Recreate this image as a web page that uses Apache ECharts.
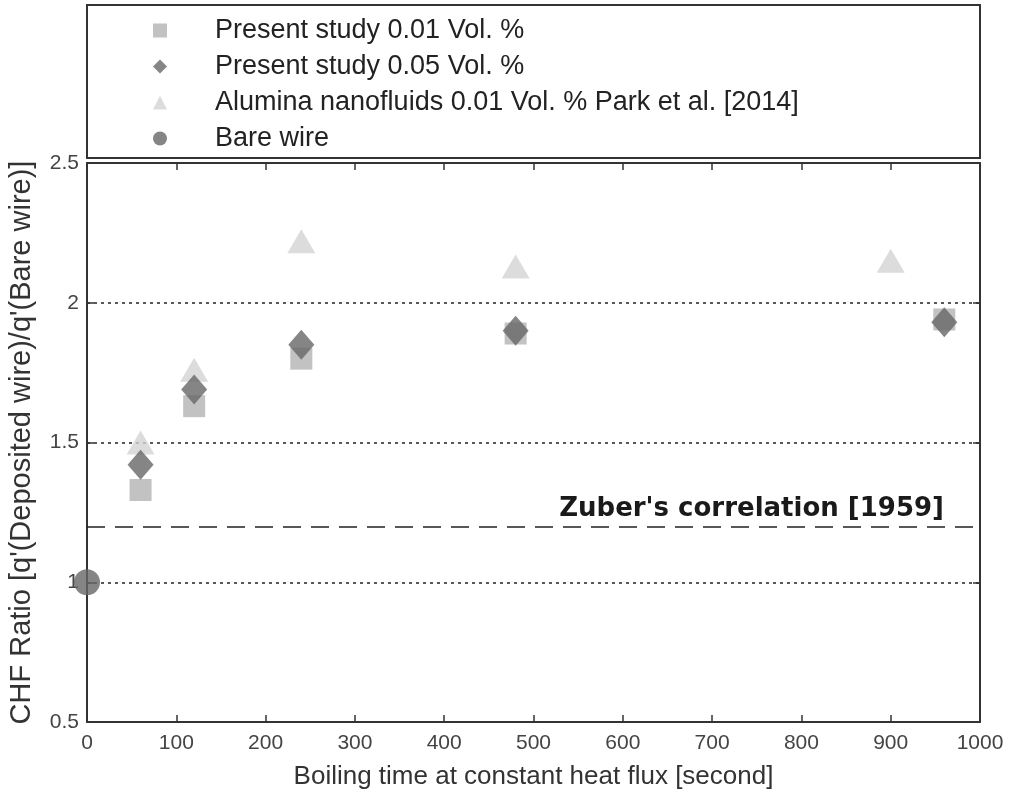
<!DOCTYPE html>
<html>
<head>
<meta charset="utf-8">
<script src="https://cdn.jsdelivr.net/npm/echarts@6/dist/echarts.min.js"></script>
<style>
  html, body { margin: 0; padding: 0; background: #fff; }
  #chart { width: 1010px; height: 794px; }
</style>
</head>
<body>
<div id="chart"></div>
<script>
// boiling time [s] and CHF ratio
const timeStudy = [60, 120, 240, 480, 960];
const ratio001 = [1.33, 1.63, 1.80, 1.89, 1.94];
const ratio005 = [1.42, 1.69, 1.85, 1.90, 1.93];
const timePark = [60, 120, 240, 480, 900];
const ratioPark = [1.50, 1.76, 2.22, 2.13, 2.15];
const timeBare = [0];
const ratioBare = [1.0];
const zuberRatio = 1.2;
const yTicks = [0.5, 1, 1.5, 2, 2.5];

const names = [
  'Present study 0.01 Vol. %',
  'Present study 0.05 Vol. %',
  'Alumina nanofluids 0.01 Vol. % Park et al. [2014]',
  'Bare wire'
];

function pairs(xs, ys) {
  return xs.map((x, i) => [x, ys[i]]);
}

const chart = echarts.init(document.getElementById('chart'));
const font = 'Liberation Sans, Arial, sans-serif';
const axisCol = '#333';

const baseX = {
  type: 'value', min: 0, max: 1000, interval: 100,
  axisLine: { show: true, onZero: false, lineStyle: { color: axisCol, width: 2 } },
  axisTick: { show: true, inside: true, length: 7, lineStyle: { color: axisCol, width: 1.5 } },
  splitLine: { show: false }
};
const baseY = {
  type: 'value', min: 0.5, max: 2.5, interval: 0.5,
  axisLine: { show: true, onZero: false, lineStyle: { color: axisCol, width: 2 } },
  axisTick: { show: true, inside: true, length: 7, lineStyle: { color: axisCol, width: 1.5 } }
};

chart.setOption({
  backgroundColor: '#fff',
  animation: false,
  textStyle: { fontFamily: font },
  grid: { left: 87, right: 30, top: 163, bottom: 72, containLabel: false, outerBoundsMode: 'none' },
  graphic: [{
    type: 'rect',
    shape: { x: 87, y: 5, width: 893, height: 153 },
    style: { fill: 'none', stroke: '#333', lineWidth: 2 }
  }],
  legend: {
    orient: 'vertical',
    left: 148, top: 12,
    itemGap: 9,
    itemWidth: 14, itemHeight: 14,
    textStyle: { fontSize: 27, color: '#222', fontFamily: font, padding: [0, 0, 0, 43] },
    data: names
  },
  xAxis: [
    Object.assign({}, baseX, {
      position: 'bottom',
      name: 'Boiling time at constant heat flux [second]',
      nameLocation: 'middle', nameGap: 42,
      nameTextStyle: { fontSize: 26, color: '#333' },
      axisLabel: { fontSize: 21, color: '#444', margin: 11, formatter: v => String(v) }
    }),
    Object.assign({}, baseX, { position: 'top', axisLabel: { show: false } })
  ],
  yAxis: [
    Object.assign({}, baseY, {
      position: 'left',
      name: "CHF Ratio [q'(Deposited wire)/q'(Bare wire)]",
      nameLocation: 'middle', nameGap: 51,
      nameTextStyle: { fontSize: 29, color: '#333' },
      axisLabel: {
        fontSize: 21, color: '#444', margin: 8,
        formatter: v => (yTicks.indexOf(v) >= 0 ? String(v) : '')
      },
      splitLine: { show: true, lineStyle: { color: '#222', type: [3, 4], width: 1.5 } }
    }),
    Object.assign({}, baseY, { position: 'right', axisLabel: { show: false }, splitLine: { show: false } })
  ],
  series: [
    {
      name: names[2], type: 'scatter', symbol: 'triangle', symbolSize: [28, 24],
      itemStyle: { color: '#d3d3d3' },
      data: pairs(timePark, ratioPark),
      z: 2
    },
    {
      name: names[0], type: 'scatter', symbol: 'rect', symbolSize: 22,
      itemStyle: { color: '#b3b3b3' },
      data: pairs(timeStudy, ratio001),
      z: 3,
      markLine: {
        silent: true, symbol: 'none',
        lineStyle: { color: '#222', type: [18, 10], width: 1.5 },
        label: {
          show: true, position: 'insideEndTop',
          formatter: "Zuber's correlation [1959]",
          fontSize: 26, fontWeight: 'bold', color: '#1a1a1a',
          fontFamily: 'DejaVu Sans', distance: [36, 4]
        },
        data: [{ yAxis: zuberRatio }]
      }
    },
    {
      name: names[1], type: 'scatter', symbol: 'diamond', symbolSize: [26, 30],
      itemStyle: { color: '#666' },
      data: pairs(timeStudy, ratio005),
      z: 4
    },
    {
      name: names[3], type: 'scatter', symbol: 'circle', symbolSize: 26,
      itemStyle: { color: '#666' },
      data: pairs(timeBare, ratioBare),
      z: 5
    }
  ]
});
</script>
</body>
</html>
